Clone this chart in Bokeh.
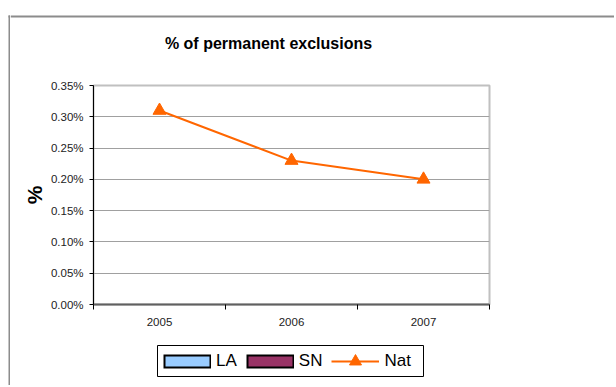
from bokeh.plotting import figure
from bokeh.layouts import row, column
from bokeh.models import (Range1d, FixedTicker, NumeralTickFormatter, Legend,
                          LegendItem, Label, ColumnDataSource)
from bokeh.embed import file_html
from bokeh.resources import INLINE

# ---- data ----
years = ["2005", "2006", "2007"]
nat = [0.0031, 0.0023, 0.0020]       # fraction (0.31% ...)
la = [float("nan")] * 3               # no values shown
sn = [float("nan")] * 3               # no values shown
y_ticks = [0, 0.0005, 0.001, 0.0015, 0.002, 0.0025, 0.003, 0.0035]
series_names = ["LA", "SN", "Nat"]
series_colors = ["#99ccff", "#993366", "#ff6600"]
title_text = "% of permanent exclusions"

xs = [i + 0.5 for i in range(len(years))]
bounds = list(range(len(years) + 1))

BORDER = "#8c8c8c"
W_LEFT, W_MAIN = 10, 604
H_TOP, H_MAIN, H_LEG = 72, 263, 50
H_ALL = H_TOP + H_MAIN + H_LEG


def pixel_fig(w, h):
    f = figure(width=w, height=h, output_backend="svg", toolbar_location=None,
               x_range=Range1d(0, w), y_range=Range1d(h, 0),
               x_axis_location=None, y_axis_location=None, title=None,
               min_border=0, min_border_left=0, min_border_right=0,
               min_border_top=0, min_border_bottom=0, frame_align=False)
    f.outline_line_color = None
    f.background_fill_color = "white"
    f.border_fill_color = "white"
    f.grid.visible = False
    return f


# ---- left strip: chart-area border ----
f_left = pixel_fig(W_LEFT, H_ALL)
f_left.line([9, 9], [15, H_ALL], line_color=BORDER, line_width=2)
f_left.line([8, W_LEFT], [16, 16], line_color=BORDER, line_width=2)

# ---- top strip: border + title ----
f_top = pixel_fig(W_MAIN, H_TOP)
f_top.line([0, W_MAIN], [16, 16], line_color=BORDER, line_width=2)
f_top.add_layout(Label(x=258, y=43, text=title_text, text_align="center",
                       text_baseline="middle", text_font="Liberation Sans",
                       text_font_style="bold", text_font_size="16px",
                       text_color="black"))

# ---- main plot ----
p_main = figure(width=W_MAIN, height=H_MAIN, output_backend="svg",
                toolbar_location=None, title=None, frame_align=False,
                x_range=Range1d(0, len(years)),
                y_range=Range1d(y_ticks[0], y_ticks[-1]),
                min_border_left=83, min_border_right=125, min_border_top=13,
                min_border_bottom=31)
p_main.background_fill_color = "white"
p_main.border_fill_color = "white"
p_main.outline_line_color = "#c0c0c0"
p_main.outline_line_width = 2

p_main.xgrid.visible = False
p_main.ygrid.grid_line_color = "#a0a0a0"
p_main.ygrid.grid_line_width = 1

p_main.yaxis.ticker = FixedTicker(ticks=y_ticks)
p_main.yaxis.formatter = NumeralTickFormatter(format="0.00%")
p_main.yaxis.axis_line_color = "black"
p_main.yaxis.major_tick_line_color = "black"
p_main.yaxis.major_tick_out = 4
p_main.yaxis.major_tick_in = 0
p_main.yaxis.minor_tick_line_color = None
p_main.yaxis.major_label_standoff = 6
p_main.yaxis.major_label_text_font = "Liberation Sans"
p_main.yaxis.major_label_text_font_size = "11.5px"
p_main.yaxis.major_label_text_color = "#222222"
p_main.yaxis.axis_label = "%"
p_main.yaxis.axis_label_text_font = "Liberation Sans"
p_main.yaxis.axis_label_text_font_style = "bold"
p_main.yaxis.axis_label_text_font_size = "21px"
p_main.yaxis.axis_label_text_color = "black"
p_main.yaxis.axis_label_standoff = 2

p_main.xaxis.ticker = FixedTicker(ticks=xs, minor_ticks=bounds)
p_main.xaxis.major_label_overrides = {x: y for x, y in zip(xs, years)}
p_main.xaxis.major_tick_out = 0
p_main.xaxis.major_tick_in = 0
p_main.xaxis.minor_tick_out = 5
p_main.xaxis.minor_tick_in = 0
p_main.xaxis.minor_tick_line_color = "black"
p_main.xaxis.axis_line_color = "#606060"
p_main.xaxis.axis_line_width = 2
p_main.xaxis.major_label_standoff = 8
p_main.xaxis.major_label_text_font = "Liberation Sans"
p_main.xaxis.major_label_text_font_size = "11.5px"
p_main.xaxis.major_label_text_color = "#222222"

src = ColumnDataSource(dict(x=xs, la=la, sn=sn, nat=nat))
p_main.line("x", "la", source=src, line_color=series_colors[0], line_width=2)
p_main.line("x", "sn", source=src, line_color=series_colors[1], line_width=2)
p_main.line("x", "nat", source=src, line_color=series_colors[2], line_width=2)
p_main.scatter("x", "nat", source=src, marker="triangle", size=13,
               fill_color=series_colors[2], line_color=series_colors[2])

# ---- legend strip ----
f_leg = pixel_fig(W_MAIN, H_LEG)
f_leg.quad(left=[147], right=[413], top=[10], bottom=[41],
           fill_color="white", line_color="black", line_width=1)
lsrc = ColumnDataSource(dict(x=xs, la=la, sn=sn))
r_la_b = f_leg.line("x", "la", source=lsrc, line_color="black", line_width=14)
r_la = f_leg.line("x", "la", source=lsrc, line_color=series_colors[0], line_width=10,
                  line_dash="44 4", line_dash_offset=46)
r_sn_b = f_leg.line("x", "sn", source=lsrc, line_color="black", line_width=14)
r_sn = f_leg.line("x", "sn", source=lsrc, line_color=series_colors[1], line_width=10,
                  line_dash="44 4", line_dash_offset=46)
r_nl = f_leg.line("x", "la", source=lsrc, line_color=series_colors[2], line_width=2)
r_np = f_leg.scatter("x", "la", source=lsrc, marker="triangle", size=13,
                     fill_color=series_colors[2], line_color=series_colors[2])
legend = Legend(items=[LegendItem(label=series_names[0], renderers=[r_la_b, r_la]),
                       LegendItem(label=series_names[1], renderers=[r_sn_b, r_sn]),
                       LegendItem(label=series_names[2], renderers=[r_nl, r_np])],
                orientation="horizontal", location=(153, 9),
                glyph_width=48, glyph_height=30, label_standoff=5, spacing=9,
                padding=0, margin=0,
                label_text_font="Liberation Sans", label_text_font_size="17px",
                label_text_color="black",
                border_line_color=None, background_fill_alpha=0)
f_leg.add_layout(legend, "center")

p = row(f_left, column(f_top, p_main, f_leg, spacing=0), spacing=0)

open("out.html", "w").write(file_html(p, INLINE))
